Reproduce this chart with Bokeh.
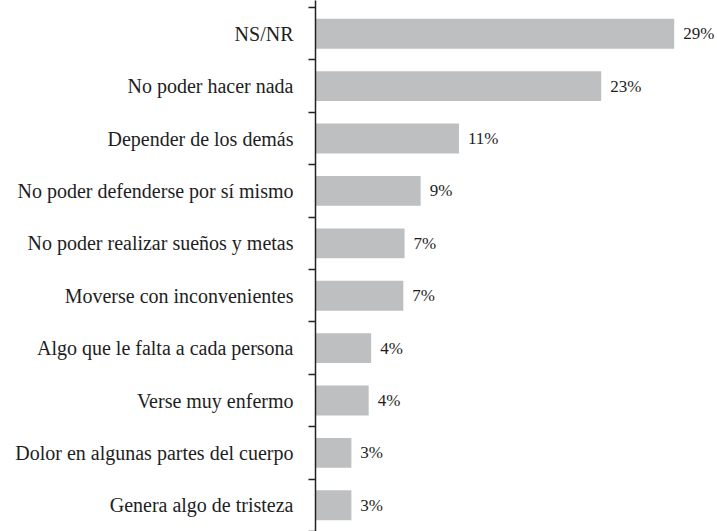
from bokeh.plotting import figure
from bokeh.models import Range1d, FixedTicker, ColumnDataSource, LabelSet
from bokeh.embed import file_html
from bokeh.resources import INLINE

categories = [
    "NS/NR",
    "No poder hacer nada",
    "Depender de los demás",
    "No poder defenderse por sí mismo",
    "No poder realizar sueños y metas",
    "Moverse con inconvenientes",
    "Algo que le falta a cada persona",
    "Verse muy enfermo",
    "Dolor en algunas partes del cuerpo",
    "Genera algo de tristeza",
]
values = [29.0, 23.1, 11.6, 8.5, 7.2, 7.1, 4.5, 4.3, 2.9, 2.9]
value_labels = ["29%", "23%", "11%", "9%", "7%", "7%", "4%", "4%", "3%", "3%"]

n = len(categories)
centers = [n - 0.5 - i for i in range(n)]
bounds = [float(i) for i in range(n + 1)]

FONT = "'Liberation Serif', serif"

src = ColumnDataSource(dict(y=centers, v=values, lab=value_labels, cat=categories))

p = figure(width=717, height=531, output_backend="svg", toolbar_location=None,
           x_range=Range1d(0, 32.5), y_range=Range1d(0.0, 10.134),
           min_border_left=315, min_border_right=0, min_border_top=0, min_border_bottom=0)

p.hbar(y="y", left=0, right="v", height=0.57, source=src,
       fill_color="#bebfc1", line_color=None)

labels = LabelSet(x="v", y="y", text="lab", source=src, x_offset=9,
                  text_baseline="middle", text_font=FONT,
                  text_font_size="17px", text_color="#1e1e1e")
p.add_layout(labels)

p.xaxis.visible = False
p.xgrid.visible = False
p.ygrid.visible = False
p.outline_line_color = None

ax = p.yaxis[0]
ax.ticker = FixedTicker(ticks=centers, minor_ticks=bounds)
ax.major_label_overrides = {c: cat for c, cat in zip(centers, categories)}
ax.major_tick_line_color = None
ax.major_tick_out = 0
ax.major_tick_in = 0
ax.minor_tick_out = 7
ax.minor_tick_in = 0
ax.minor_tick_line_color = "#222222"
ax.minor_tick_line_width = 1.5
ax.axis_line_color = "#222222"
ax.axis_line_width = 1.5
ax.major_label_standoff = 15
ax.major_label_text_font = FONT
ax.major_label_text_font_size = "20px"
ax.major_label_text_color = "#1e1e1e"

open("out.html", "w").write(file_html(p, INLINE))
